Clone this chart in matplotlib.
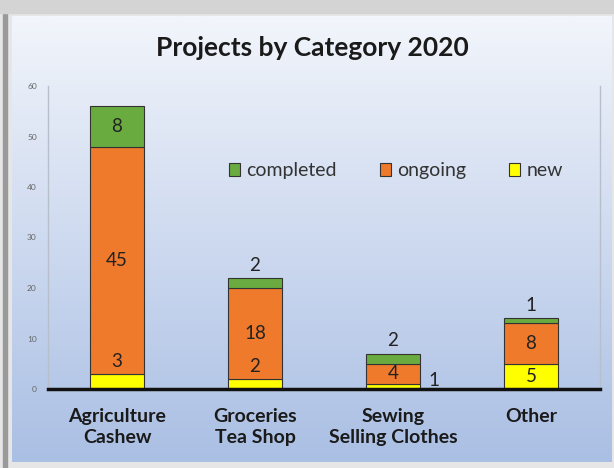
import matplotlib
matplotlib.use('Agg')
import matplotlib.pyplot as plt
import numpy as np

# data
categories = ['Agriculture\nCashew', 'Groceries\nTea Shop', 'Sewing\nSelling Clothes', 'Other']
new = [3, 2, 1, 5]
ongoing = [45, 18, 4, 8]
completed = [8, 2, 2, 1]
yticks = [0, 10, 20, 30, 40, 50, 60]

# where each value label sits: 'in' centre, 'top' just above segment, 'right' beside bar
new_pos = ['top', 'top', 'right', 'in']
ongoing_pos = ['in', 'in', 'in', 'in']
completed_pos = ['in', 'top', 'top', 'top']

plt.rcParams['font.family'] = ['Lato', 'DejaVu Sans']

fig = plt.figure(figsize=(6.14, 4.68), dpi=100)
fig.patch.set_facecolor('#e6e6e6')

# background panel with vertical gradient
bg = fig.add_axes([12 / 614, 6 / 468, 600 / 614, 446 / 468])
top_c = np.array([242, 245, 251]) / 255
bot_c = np.array([170, 191, 228]) / 255
t = np.linspace(0, 1, 256)[:, None]
grad = top_c * (1 - t[..., None]) + bot_c * t[..., None]
bg.imshow(grad, aspect='auto', extent=[0, 1, 0, 1])
bg.set_axis_off()
# gray frame edges
fig.patches.append(plt.Rectangle((3 / 614, 0), 4 / 614, 455 / 468, transform=fig.transFigure,
                                 color='#9a9a9a', zorder=0))
fig.patches.append(plt.Rectangle((0, 455 / 468), 1, 13 / 468, transform=fig.transFigure,
                                 color='#d4d4d4', zorder=0))

ax = fig.add_axes([48 / 614, 79 / 468, 552 / 614, 303 / 468])
ax.patch.set_alpha(0)

x = np.arange(len(categories))
w = 0.39
green = '#6aab3f'
orange = '#ef7a2c'
yellow = '#ffff00'
edge = '#333333'

b_new = ax.bar(x, new, w, color=yellow, edgecolor=edge, linewidth=0.8, label='new')
b_on = ax.bar(x, ongoing, w, bottom=new, color=orange, edgecolor=edge, linewidth=0.8, label='ongoing')
bottom2 = np.array(new) + np.array(ongoing)
b_co = ax.bar(x, completed, w, bottom=bottom2, color=green, edgecolor=edge, linewidth=0.8, label='completed')

lab_fs = 13.5


def put_labels(bars, vals, modes):
    for rect, v, m in zip(bars, vals, modes):
        cx = rect.get_x() + rect.get_width() / 2
        y0 = rect.get_y()
        y1 = y0 + rect.get_height()
        if m == 'in':
            ax.text(cx, (y0 + y1) / 2, str(v), ha='center', va='center', fontsize=lab_fs, color='#222222')
        elif m == 'top':
            ax.annotate(str(v), (cx, y1), xytext=(0, 3), textcoords='offset points',
                        ha='center', va='bottom', fontsize=lab_fs, color='#222222')
        else:
            ax.annotate(str(v), (rect.get_x() + rect.get_width(), y0), xytext=(6, 0),
                        textcoords='offset points', ha='left', va='bottom', fontsize=lab_fs, color='#222222')


put_labels(b_new, new, new_pos)
put_labels(b_on, ongoing, ongoing_pos)
put_labels(b_co, completed, completed_pos)

ax.set_xlim(-0.5, len(categories) - 0.5)
ax.set_ylim(0, 60)
ax.set_yticks(yticks)
ax.tick_params(axis='y', length=0, labelsize=6, colors='#666666', pad=8)
ax.tick_params(axis='x', length=0, pad=14)
ax.set_xticks(x)
ax.set_xticklabels(categories, fontsize=14, fontweight='bold', color='#1a1a1a', linespacing=1.25)

for s in ['left', 'right']:
    ax.spines[s].set_color('#b8bfcc')
    ax.spines[s].set_linewidth(1)
ax.spines['top'].set_visible(False)
ax.spines['bottom'].set_color('#111111')
ax.spines['bottom'].set_linewidth(2.5)

h, l = ax.get_legend_handles_labels()
ax.legend(h[::-1], l[::-1], loc='center', bbox_to_anchor=(0.63, 0.72), ncol=3, frameon=False,
          fontsize=14, handlelength=0.6, handleheight=0.6, columnspacing=2.2, handletextpad=0.3,
          labelcolor='#333333')

fig.text(312 / 614, 1 - 48 / 468, 'Projects by Category 2020', ha='center', va='center',
         fontsize=19, fontweight='bold', color='#1a1a1a')

fig.savefig('out.png', dpi=100)
